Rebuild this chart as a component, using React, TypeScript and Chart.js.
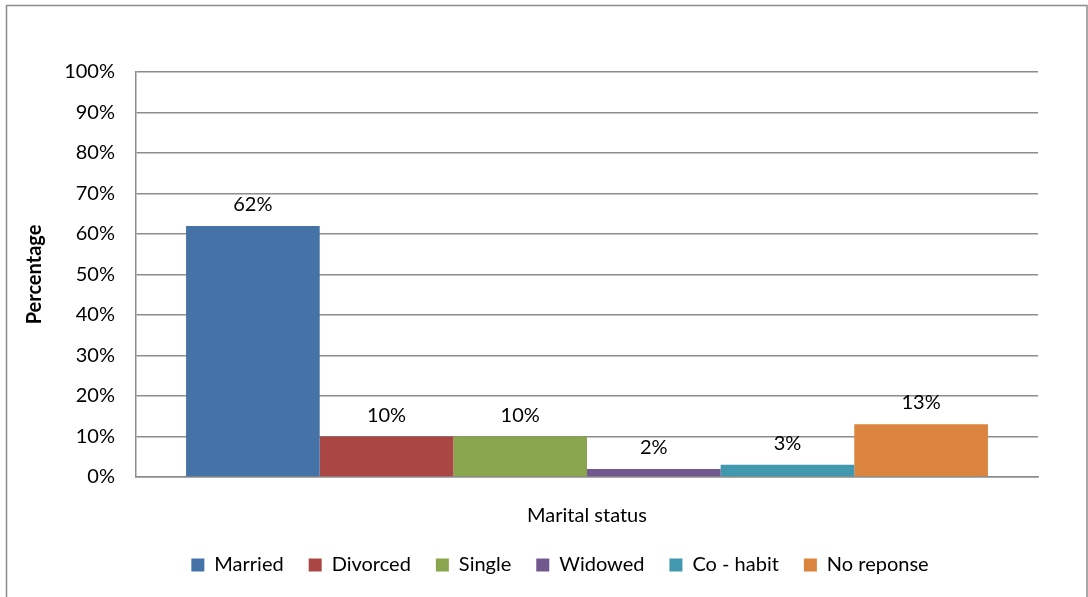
import React, { useEffect, useRef } from "react";
import { Chart, registerables } from "chart.js";

Chart.register(...registerables);

const categories = ["Marital status"];
const seriesNames = ["Married", "Divorced", "Single", "Widowed", "Co - habit", "No reponse"];
const seriesValues = [62, 10, 10, 2, 3, 13];
const seriesColors = ["#4572A7", "#AA4643", "#89A54E", "#71588F", "#4198AF", "#DB843D"];
const yTicks = [0, 10, 20, 30, 40, 50, 60, 70, 80, 90, 100];
const yTitle = "Percentage";

const FONT = "Lato, 'Open Sans', sans-serif";
const FS = 20;

const framePlugin = {
  id: "frame",
  afterLayout(chart: any) {
    if (chart.legend) {
      chart.legend.left += 29;
      chart.legend.right += 29;
    }
  },
  beforeDraw(chart: any) {
    const ctx = chart.ctx;
    ctx.save();
    ctx.fillStyle = "#ffffff";
    ctx.fillRect(0, 0, chart.width, chart.height);
    ctx.strokeStyle = "#8c8c8c";
    ctx.lineWidth = 1.5;
    ctx.strokeRect(6.5, 5.5, chart.width - 7.5, chart.height + 10);
    ctx.restore();
  },
  afterDraw(chart: any) {
    const ctx = chart.ctx;
    const area = chart.chartArea;
    ctx.save();
    ctx.font = `bold ${FS}px ${FONT}`;
    ctx.fillStyle = "#000000";
    ctx.textAlign = "center";
    ctx.textBaseline = "middle";
    ctx.translate(35, (area.top + area.bottom) / 2);
    ctx.rotate(-Math.PI / 2);
    ctx.fillText(yTitle, 0, 0);
    ctx.restore();
  },
};

const labelPlugin = {
  id: "valueLabels",
  afterDatasetsDraw(chart: any) {
    const ctx = chart.ctx;
    ctx.save();
    ctx.font = `${FS}px ${FONT}`;
    ctx.fillStyle = "#000000";
    ctx.textAlign = "center";
    ctx.textBaseline = "alphabetic";
    chart.data.datasets.forEach((ds: any, i: number) => {
      const meta = chart.getDatasetMeta(i);
      meta.data.forEach((el: any, j: number) => {
        ctx.fillText(`${ds.data[j]}%`, el.x, el.y - 15);
      });
    });
    ctx.restore();
  },
};

export default function App() {
  const ref = useRef<HTMLCanvasElement | null>(null);
  useEffect(() => {
    if (!ref.current) return;
    const chart = new Chart(ref.current, {
      type: "bar",
      data: {
        labels: categories,
        datasets: seriesNames.map((name, i) => ({
          label: name,
          data: [seriesValues[i]],
          backgroundColor: seriesColors[i],
          borderWidth: 0,
          barPercentage: 1,
          categoryPercentage: 0.889,
        })),
      },
      options: {
        responsive: false,
        animation: false,
        layout: { padding: { top: 72, right: 50, left: 24, bottom: 12 } },
        plugins: {
          tooltip: { enabled: false },
          legend: {
            position: "bottom",
            labels: {
              boxWidth: 13,
              boxHeight: 13,
              padding: 25,
              color: "#000",
              font: { family: FONT, size: FS },
            },
          },
        },
        scales: {
          x: {
            grid: { display: false, drawTicks: false },
            border: { display: true, color: "#8c8c8c", width: 1.5 },
            ticks: { color: "#000", padding: 27, font: { family: FONT, size: FS } },
            afterFit(scale: any) {
              scale.height = 53;
            },
          },
          y: {
            min: 0,
            max: 100,
            afterBuildTicks(scale: any) {
              scale.ticks = yTicks.map((v) => ({ value: v }));
            },
            grid: { color: "#8c8c8c", lineWidth: 1.5, drawTicks: false },
            border: { display: true, color: "#8c8c8c", width: 1.5 },
            ticks: {
              color: "#000",
              padding: 21,
              font: { family: FONT, size: FS },
              callback: (v: any) => `${v}%`,
            },
            afterFit(scale: any) {
              scale.width = 112;
            },
          },
        },
      },
      plugins: [framePlugin, labelPlugin],
    });
    return () => chart.destroy();
  }, []);
  return (
    <div style={{ position: "fixed", left: 0, top: 0, width: 1088, height: 597 }}>
      <canvas ref={ref} width={1088} height={597} />
    </div>
  );
}
